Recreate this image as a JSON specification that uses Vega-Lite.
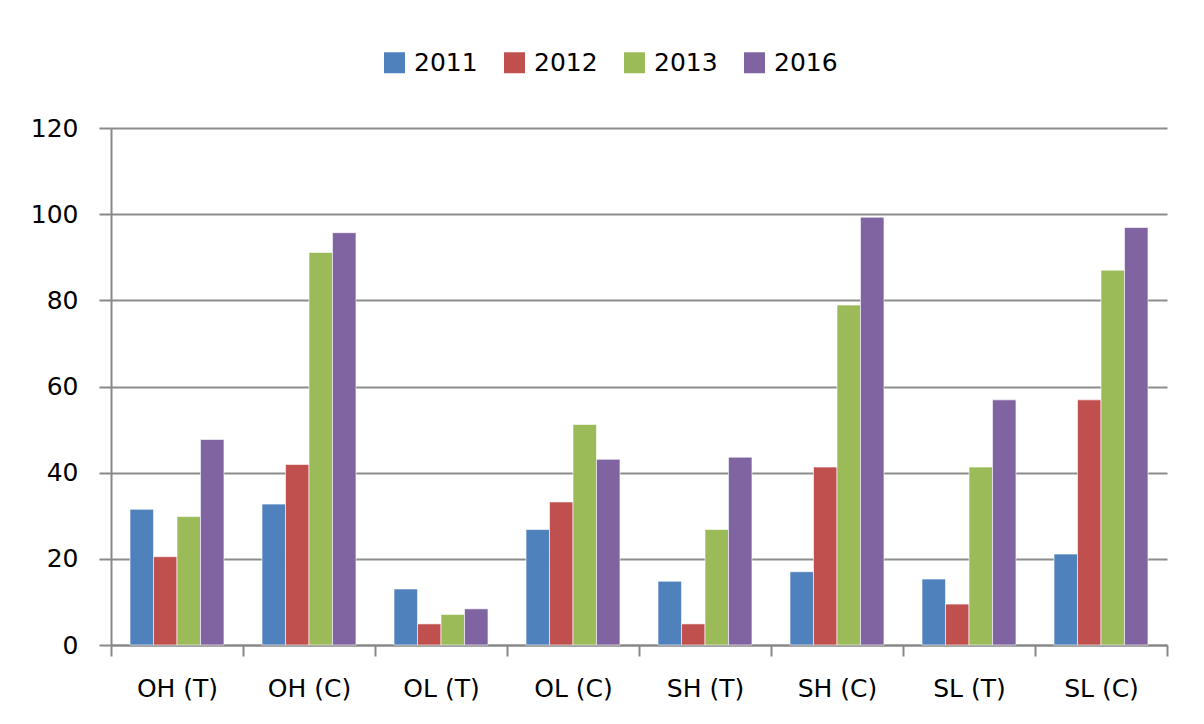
{
  "$schema": "https://vega.github.io/schema/vega-lite/v6.json",
  "autosize": "none",
  "width": 1056,
  "height": 517,
  "padding": {"left": 111, "top": 128, "right": 37, "bottom": 79},
  "background": "#ffffff",
  "data": {
    "values": [
      {"cat": "OH (T)", "year": "2011", "value": 31.5},
      {"cat": "OH (T)", "year": "2012", "value": 20.5},
      {"cat": "OH (T)", "year": "2013", "value": 29.8},
      {"cat": "OH (T)", "year": "2016", "value": 47.7},
      {"cat": "OH (C)", "year": "2011", "value": 32.7},
      {"cat": "OH (C)", "year": "2012", "value": 41.9},
      {"cat": "OH (C)", "year": "2013", "value": 91.1},
      {"cat": "OH (C)", "year": "2016", "value": 95.7},
      {"cat": "OL (T)", "year": "2011", "value": 13.0},
      {"cat": "OL (T)", "year": "2012", "value": 4.9},
      {"cat": "OL (T)", "year": "2013", "value": 7.1},
      {"cat": "OL (T)", "year": "2016", "value": 8.4},
      {"cat": "OL (C)", "year": "2011", "value": 26.8},
      {"cat": "OL (C)", "year": "2012", "value": 33.2},
      {"cat": "OL (C)", "year": "2013", "value": 51.2},
      {"cat": "OL (C)", "year": "2016", "value": 43.1},
      {"cat": "SH (T)", "year": "2011", "value": 14.8},
      {"cat": "SH (T)", "year": "2012", "value": 4.9},
      {"cat": "SH (T)", "year": "2013", "value": 26.8},
      {"cat": "SH (T)", "year": "2016", "value": 43.6},
      {"cat": "SH (C)", "year": "2011", "value": 17.0},
      {"cat": "SH (C)", "year": "2012", "value": 41.3},
      {"cat": "SH (C)", "year": "2013", "value": 78.9},
      {"cat": "SH (C)", "year": "2016", "value": 99.3},
      {"cat": "SL (T)", "year": "2011", "value": 15.3},
      {"cat": "SL (T)", "year": "2012", "value": 9.5},
      {"cat": "SL (T)", "year": "2013", "value": 41.3},
      {"cat": "SL (T)", "year": "2016", "value": 56.9},
      {"cat": "SL (C)", "year": "2011", "value": 21.1},
      {"cat": "SL (C)", "year": "2012", "value": 56.9},
      {"cat": "SL (C)", "year": "2013", "value": 87.0},
      {"cat": "SL (C)", "year": "2016", "value": 96.9}
    ]
  },
  "mark": {"type": "bar", "stroke": "#ffffff", "strokeWidth": 1, "strokeOpacity": 0.6},
  "encoding": {
    "x": {
      "field": "cat",
      "type": "nominal",
      "sort": null,
      "scale": {"paddingInner": 0, "paddingOuter": 0},
      "axis": {
        "title": null,
        "labelAngle": 0,
        "tickBand": "extent",
        "tickSize": 11,
        "tickColor": "#888888",
        "tickWidth": 2,
        "domainColor": "#888888",
        "domainWidth": 2,
        "labelPadding": 20,
        "labelFont": "DejaVu Sans",
        "labelFontSize": 25,
        "labelColor": "#000000"
      }
    },
    "xOffset": {
      "field": "year",
      "type": "nominal",
      "scale": {"paddingInner": 0, "paddingOuter": 0.81}
    },
    "y": {
      "field": "value",
      "type": "quantitative",
      "scale": {"domain": [0, 120], "nice": false},
      "axis": {
        "title": null,
        "values": [0, 20, 40, 60, 80, 100, 120],
        "tickSize": 12,
        "tickColor": "#888888",
        "tickWidth": 2,
        "domainColor": "#888888",
        "domainWidth": 2,
        "grid": true,
        "gridColor": "#8c8c8c",
        "gridWidth": 2,
        "labelPadding": 21,
        "labelFont": "DejaVu Sans",
        "labelFontSize": 25,
        "labelColor": "#000000"
      }
    },
    "color": {
      "field": "year",
      "type": "nominal",
      "scale": {
        "domain": ["2011", "2012", "2013", "2016"],
        "range": ["#4F81BD", "#C0504D", "#9BBB59", "#8064A2"]
      },
      "legend": {
        "title": null,
        "orient": "none",
        "direction": "horizontal",
        "legendX": 271,
        "legendY": -78,
        "symbolType": "square",
        "symbolSize": 440,
        "symbolStrokeWidth": 0,
        "labelOffset": 7,
        "columnPadding": 24,
        "labelFont": "DejaVu Sans",
        "labelFontSize": 25,
        "labelColor": "#000000"
      }
    }
  },
  "config": {
    "view": {"stroke": null}
  }
}
